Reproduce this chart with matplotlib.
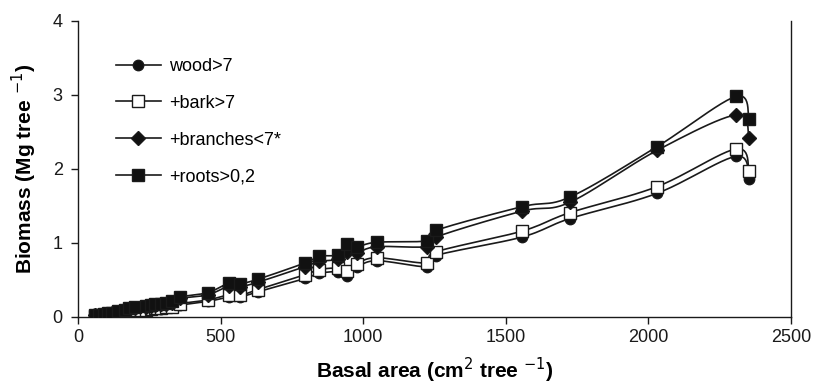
import numpy as np
import matplotlib
matplotlib.use("Agg")
import matplotlib.pyplot as plt
from matplotlib.lines import Line2D

plt.rcParams['font.family'] = ['Liberation Sans', 'DejaVu Sans']

basal_area = [60, 75, 90, 105, 120, 140, 165, 180, 200, 240, 255, 270, 290, 310, 330, 358,
              456, 530, 568, 631, 796, 845, 912, 943, 978, 1048, 1225, 1255, 1557, 1725,
              2030, 2307, 2353]
wood = [0.014, 0.018, 0.027, 0.032, 0.041, 0.05, 0.064, 0.078, 0.083, 0.092, 0.10, 0.11, 0.11,
        0.12, 0.13, 0.16, 0.21, 0.27, 0.27, 0.34, 0.52, 0.59, 0.61, 0.56, 0.67, 0.76, 0.68,
        0.83, 1.08, 1.33, 1.67, 2.17, 1.87]
bark = [0.015, 0.02, 0.03, 0.035, 0.045, 0.055, 0.07, 0.085, 0.09, 0.10, 0.11, 0.12, 0.12,
        0.13, 0.14, 0.18, 0.23, 0.30, 0.29, 0.37, 0.57, 0.64, 0.66, 0.62, 0.72, 0.80, 0.73,
        0.88, 1.16, 1.41, 1.76, 2.27, 1.97]
branches = [0.02, 0.03, 0.035, 0.045, 0.055, 0.07, 0.09, 0.11, 0.12, 0.14, 0.15, 0.16, 0.17,
            0.18, 0.19, 0.25, 0.30, 0.42, 0.41, 0.47, 0.68, 0.75, 0.78, 0.88, 0.87, 0.95, 0.95,
            1.08, 1.43, 1.55, 2.25, 2.73, 2.42]
roots = [0.02, 0.03, 0.04, 0.05, 0.06, 0.08, 0.10, 0.12, 0.13, 0.15, 0.16, 0.17, 0.18, 0.19,
         0.21, 0.27, 0.33, 0.46, 0.45, 0.51, 0.73, 0.82, 0.84, 0.98, 0.95, 1.01, 1.03, 1.17,
         1.49, 1.62, 2.30, 2.98, 2.67]

labels = ['wood>7', '+bark>7', '+branches<7*', '+roots>0,2']
markers = ['o', 's', 'D', 's']
facecolors = ['#111111', 'white', '#111111', '#111111']
msizes = [7.5, 8.5, 7.5, 9.0]
x_ticks = [0, 500, 1000, 1500, 2000, 2500]
y_ticks = [0, 1, 2, 3, 4]


def smooth(x, y, n=12):
    x = np.asarray(x, float)
    y = np.asarray(y, float)
    px = np.concatenate([[x[0]], x, [x[-1]]])
    py = np.concatenate([[y[0]], y, [y[-1]]])
    ox, oy = [], []
    t = np.linspace(0, 1, n, endpoint=False)
    for i in range(1, len(px) - 2):
        p0, p1, p2, p3 = (np.array([px[j], py[j]]) for j in (i - 1, i, i + 1, i + 2))
        for tt in t:
            pt = 0.5 * ((2 * p1) + (-p0 + p2) * tt + (2 * p0 - 5 * p1 + 4 * p2 - p3) * tt ** 2
                        + (-p0 + 3 * p1 - 3 * p2 + p3) * tt ** 3)
            ox.append(pt[0]); oy.append(pt[1])
    ox.append(x[-1]); oy.append(y[-1])
    return np.array(ox), np.array(oy)


fig = plt.figure(figsize=(8.16, 3.87), dpi=100)
ax = fig.add_axes([0.0956, 0.181, 0.8738, 0.765])

series = [wood, bark, branches, roots]
handles = []
for s, lab, m, fc, ms in zip(series, labels, markers, facecolors, msizes):
    sx, sy = smooth(basal_area, s)
    ax.plot(sx, sy, color='#1a1a1a', lw=1.2, zorder=2)
    ax.plot(basal_area, s, linestyle='none', marker=m, markersize=ms, markerfacecolor=fc,
            markeredgecolor='#1a1a1a', markeredgewidth=1.0, zorder=3)
    handles.append(Line2D([], [], color='#1a1a1a', lw=1.2, marker=m, markersize=ms,
                          markerfacecolor=fc, markeredgecolor='#1a1a1a'))

ax.set_xlim(0, 2500)
ax.set_ylim(0, 4)
ax.set_xticks(x_ticks)
ax.set_yticks(y_ticks)
ax.tick_params(direction='out', length=5, width=1, labelsize=13, colors='#1a1a1a')
ax.tick_params(axis='y', pad=6)
ax.spines['top'].set_visible(False)
for sp in ['left', 'bottom', 'right']:
    ax.spines[sp].set_linewidth(1.0)
    ax.spines[sp].set_color('#1a1a1a')

ax.set_xlabel('Basal area (cm$^2$ tree $^{-1}$)', fontsize=15, fontweight='bold', labelpad=7)
ax.set_ylabel('Biomass (Mg tree $^{-1}$)', fontsize=15, fontweight='bold', labelpad=10)

leg = ax.legend(handles, labels, loc='upper left', bbox_to_anchor=(0.03, 0.93), frameon=False,
                fontsize=13, handlelength=2.5, labelspacing=1.1, handletextpad=0.45)

fig.savefig('out.png', dpi=100)
